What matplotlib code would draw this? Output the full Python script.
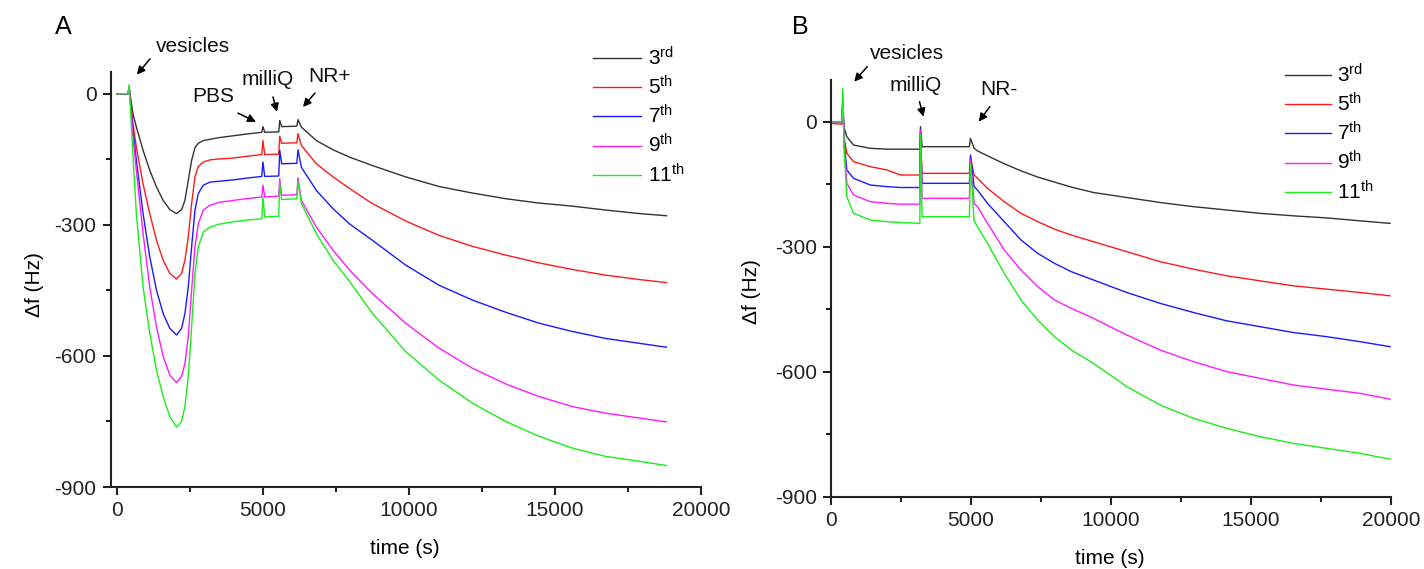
import matplotlib
matplotlib.use("Agg")
from matplotlib import pyplot as plt
from matplotlib.ticker import MultipleLocator

plt.rcParams['font.family'] = ['Liberation Sans', 'DejaVu Sans']
plt.rcParams['mathtext.fontset'] = 'custom'
plt.rcParams['mathtext.rm'] = 'Liberation Sans'
plt.rcParams['mathtext.default'] = 'regular'
plt.rcParams['axes.unicode_minus'] = False

# panel A: vesicles, PBS, milliQ, NR+
a_time = [0, 380, 420, 551, 665, 895, 1124, 1353, 1583, 1812, 2042, 2214, 2328, 2443,
          2558, 2672, 2787, 2959, 3189, 3517, 3974, 4431, 4960, 5000, 5060, 5540, 5575,
          5640, 6160, 6200, 6315, 6829, 7400, 7971, 8744, 9886, 11028, 12170, 13312,
          14454, 15596, 16738, 17880, 18816]
a_3rd = [0, 0, 12, -46, -76, -129, -175, -213, -244, -265, -274, -265, -244, -198, -152,
         -123, -113, -107, -104, -100, -96, -92, -88, -75, -88, -87, -61, -75, -74, -59,
         -76, -107, -128, -145, -164, -190, -212, -227, -240, -250, -257, -266, -274, -279]
a_5th = [0, 0, 15, -69, -122, -206, -274, -335, -381, -411, -424, -411, -381, -327, -251,
         -190, -166, -156, -151, -149, -147, -143, -139, -107, -139, -138, -97, -113, -112,
         -91, -118, -160, -190, -217, -251, -291, -324, -349, -369, -387, -402, -415, -425,
         -432]
a_7th = [0, 0, 15, -84, -152, -274, -373, -449, -503, -537, -552, -537, -503, -442, -350,
         -266, -228, -209, -202, -200, -197, -193, -189, -156, -189, -188, -129, -160, -159,
         -128, -168, -221, -263, -298, -335, -392, -438, -472, -500, -525, -544, -560, -571,
         -580]
a_9th = [0, 0, 18, -99, -175, -320, -442, -533, -601, -644, -661, -647, -617, -556, -449,
         -350, -297, -266, -255, -248, -244, -240, -236, -209, -236, -234, -194, -232, -231,
         -192, -244, -305, -358, -404, -457, -525, -582, -628, -664, -693, -716, -731, -742,
         -751]
a_11th = [0, 0, 21, -145, -274, -442, -548, -632, -693, -739, -763, -750, -716, -647, -533,
          -411, -350, -316, -305, -298, -293, -289, -286, -236, -282, -280, -205, -242, -240,
          -200, -251, -320, -381, -430, -502, -590, -655, -708, -750, -784, -811, -830, -841,
          -851]

# panel B: vesicles, milliQ, NR-
b_time = [0, 395, 430, 480, 574, 813, 1411, 2009, 2488, 3181, 3205, 3260, 4950, 4990,
          5119, 5238, 5597, 6195, 6793, 7391, 7989, 8587, 9381, 10571, 11761, 12951, 14141,
          15331, 16521, 17711, 18901, 19972]
b_3rd = [0, 0, 40, -15, -36, -56, -64, -66, -66, -66, -12, -60, -60, -40, -64, -70, -82,
         -101, -118, -133, -145, -157, -170, -182, -194, -204, -212, -220, -226, -231, -238,
         -244]
b_5th = [-4, -6, 30, -40, -76, -96, -108, -116, -128, -128, -30, -124, -124, -85, -128,
         -136, -160, -192, -220, -240, -258, -272, -288, -312, -336, -354, -370, -382, -394,
         -402, -410, -418]
b_7th = [0, 0, 50, -50, -116, -136, -152, -156, -158, -158, -25, -148, -148, -80, -156,
         -164, -196, -240, -284, -316, -340, -360, -380, -410, -436, -458, -478, -492, -506,
         -516, -528, -540]
b_9th = [0, 0, 60, -60, -148, -176, -192, -196, -198, -198, -20, -184, -184, -90, -196,
         -204, -244, -308, -356, -396, -428, -448, -472, -512, -548, -576, -600, -616, -632,
         -642, -652, -666]
b_11th = [0, 0, 80, -70, -180, -220, -236, -240, -242, -244, -30, -228, -228, -100, -238,
          -252, -292, -364, -428, -476, -516, -548, -580, -636, -680, -712, -736, -756, -772,
          -784, -796, -810]

labels = ['3$^{rd}$', '5$^{th}$', '7$^{th}$', '9$^{th}$', '11$^{th}$']
colors = ['#333333', '#ff1a1a', '#1a1aff', '#ff1aff', '#1aee1a']

fig = plt.figure(figsize=(14.24, 5.69), dpi=100)
axA = fig.add_axes([0.0776, 0.1441, 0.4147, 0.7293])
axB = fig.add_axes([0.5834, 0.1271, 0.3933, 0.7323])

def style(ax, xlim, ylim):
    ax.set_xlim(*xlim)
    ax.set_ylim(*ylim)
    for s in ['top', 'right']:
        ax.spines[s].set_visible(False)
    for s in ['left', 'bottom']:
        ax.spines[s].set_linewidth(1.5)
        ax.spines[s].set_color('#222222')
    ax.xaxis.set_major_locator(MultipleLocator(5000))
    ax.xaxis.set_minor_locator(MultipleLocator(2500))
    ax.yaxis.set_major_locator(MultipleLocator(300))
    ax.yaxis.set_minor_locator(MultipleLocator(150))
    ax.tick_params(which='major', direction='out', length=6, width=1.5, labelsize=15,
                   pad=4, color='#222222', labelcolor='#222222')
    ax.tick_params(which='minor', direction='out', length=3.5, width=1.5, color='#222222')

style(axA, (-220, 20000), (-900, 50))
style(axB, (0, 20000), (-900, 100))

for vals, lab, col in zip([a_3rd, a_5th, a_7th, a_9th, a_11th], labels, colors):
    axA.plot(a_time, vals, color=col, lw=1.0, label=lab)
for vals, lab, col in zip([b_3rd, b_5th, b_7th, b_9th, b_11th], labels, colors):
    axB.plot(b_time, vals, color=col, lw=1.0, label=lab)

axA.legend(loc='upper left', bbox_to_anchor=(593/1424, 1-46/569), bbox_transform=fig.transFigure,
           frameon=False, fontsize=15, handlelength=2.3, handletextpad=0.35,
           labelspacing=0.29, borderpad=0, borderaxespad=0)
axB.legend(loc='upper left', bbox_to_anchor=(1285/1424, 1-63/569), bbox_transform=fig.transFigure,
           frameon=False, fontsize=15, handlelength=2.2, handletextpad=0.3,
           labelspacing=0.29, borderpad=0, borderaxespad=0)

arrow = dict(arrowstyle='-|>', color='black', lw=1.1, mutation_scale=12, shrinkA=0, shrinkB=0)

def note(ax, text, tpos, tail, head):
    ax.text(tpos[0], tpos[1], text, fontsize=15, ha='center', va='center', color='#111111')
    ax.annotate('', xy=head, xytext=tail, arrowprops=arrow, annotation_clip=False)

note(axA, 'vesicles', (2603, 108), (1130, 80), (685, 44))
note(axA, 'PBS', (3288, -7), (4144, -44), (4761, -64))
note(axA, 'milliQ', (5172, 34), (5343, -7), (5480, -41))
note(axA, 'NR+', (7295, 39), (6782, 2), (6370, -30))

note(axB, 'vesicles', (2739, 163), (1303, 132), (836, 96))
note(axB, 'milliQ', (3023, 86), (3167, 48), (3313, 12))
note(axB, 'NR-', (6004, 77), (5681, 36), (5286, 0))

fig.text(63/1424, 1-27/569, 'A', fontsize=18, ha='center', va='center')
fig.text(800/1424, 1-27/569, 'B', fontsize=18, ha='center', va='center')
fig.text(35/1424, 1-285/569, 'Δf (Hz)', fontsize=15, rotation=90, ha='center', va='center')
fig.text(752/1424, 1-292/569, 'Δf (Hz)', fontsize=15, rotation=90, ha='center', va='center')
fig.text(405/1424, 1-549/569, 'time (s)', fontsize=15, ha='center', va='center')
fig.text(1110/1424, 1-558/569, 'time (s)', fontsize=15, ha='center', va='center')

fig.savefig('out.png', dpi=100)
